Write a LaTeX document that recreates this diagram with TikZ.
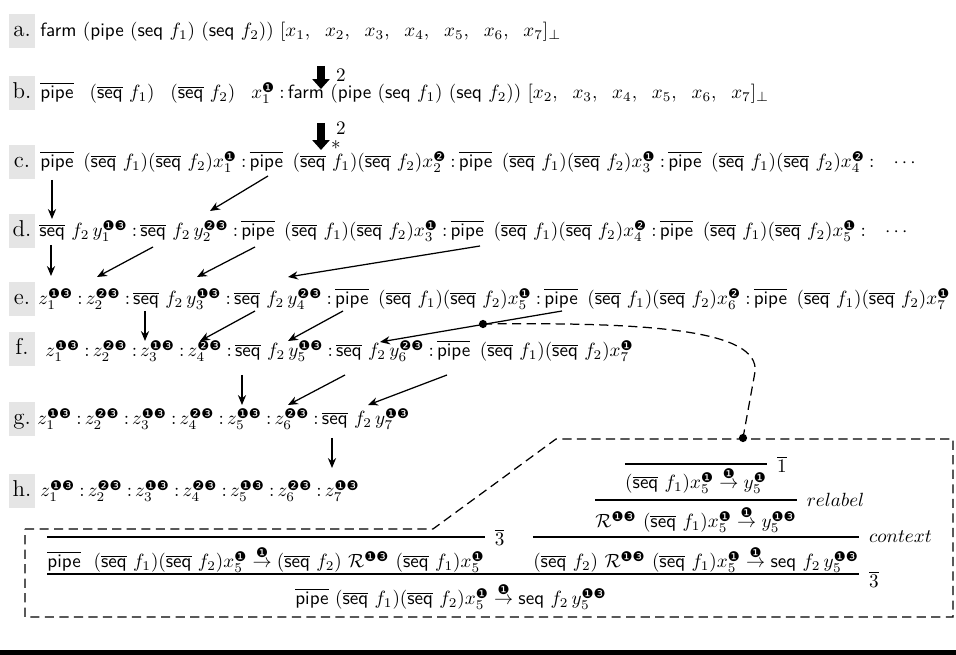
\documentclass[tikz,border=0pt]{standalone}
\usepackage{amsmath}
\usepackage{fontspec}
\newfontfamily\djv{DejaVu Sans}
\usetikzlibrary{arrows.meta}
\newcommand\cA{\text{\djv ❶}}
\newcommand\cB{\text{\djv ❷}}
\newcommand\cAC{\text{\djv ❶❸}}
\newcommand\cBC{\text{\djv ❷❸}}
\newcommand\Opipe{\overline{\textsf{pipe}}}
\newcommand\Oseq{\overline{\textsf{seq}}}
\newcommand\Sseq{\textsf{seq}}
\newcommand\Spipe{\textsf{pipe}}
\newcommand\Sfarm{\textsf{farm}}
\newcommand\Cl{\mskip4mu{:}\mskip3mu}
\newcommand\El[1]{\Opipe\ \,(\Oseq\ f_1)(\Oseq\ f_2)x_{#1}}
\newcommand\Ys[1]{\Oseq\ f_2\,y_{#1}}
\newcommand\Arr{\overset{\cA}{\rightarrow}}
\begin{document}
\begin{tikzpicture}[x=0.523pt,y=-0.523pt,
  row/.style={inner sep=0pt,anchor=base west,font=\normalsize},
  lab/.style={fill=black!10,anchor=base,font=\large,minimum width=14pt,text height=11.5pt,text depth=5.5pt,inner xsep=1pt,inner ysep=0.5pt},
  conn/.style={line width=0.65pt,-{Stealth[length=5.2pt,width=4.3pt]}},
  bigarr/.style={line width=4.2pt,-{Triangle[length=5.2pt,width=8.9pt]}},
  dashline/.style={line width=0.65pt,dash pattern=on 4.8pt off 2.8pt},
  pf/.style={inner sep=0pt,anchor=base,font=\normalsize},
  rule/.style={line width=0.6pt},
  rlab/.style={inner sep=0pt,anchor=west,font=\normalsize}]
\useasboundingbox (0,0) rectangle (956,655);

% row labels
\node[lab] (la) at (22,37) {a.};
\node[lab] (lb) at (22,99) {b.};
\node[lab] (lc) at (22,168) {c.};
\node[lab] (ld) at (22,237) {d.};
\node[lab] (le) at (22,305) {e.};
\node[lab] (lf) at (22,355) {f.};
\node[lab] (lg) at (22,425) {g.};
\node[lab] (lh) at (22,497) {h.};

% rows
\node[row] (ra) at (40,37) {$\Sfarm\ (\Spipe\ (\Sseq\ f_1)\ (\Sseq\ f_2))\ [x_1,\ \;x_2,\ \;x_3,\ \;x_4,\ \;x_5,\ \;x_6,\ \;x_7]_\perp$};
\node[row] (rb) at (40,99) {$\Opipe\ \ \,(\Oseq\ f_1)\ \ \,(\Oseq\ f_2)\ \ \,x_1^{\cA}\Cl\Sfarm\ (\Spipe\ (\Sseq\ f_1)\ (\Sseq\ f_2))\ [x_2,\ \;x_3,\ \;x_4,\ \;x_5,\ \;x_6,\ \;x_7]_\perp$};
\node[row] (rc) at (40,168) {$\El1^{\cA}\Cl\El2^{\cB}\Cl\El3^{\cA}\Cl\El4^{\cB}\Cl\ \ \cdots$};
\node[row] (rd) at (39,237) {$\Ys1^{\cAC}\Cl\Ys2^{\cBC}\Cl\El3^{\cA}\Cl\El4^{\cB}\Cl\El5^{\cA}\Cl\ \ \cdots$};
\node[row] (re) at (38,305) {$z_1^{\cAC}\Cl z_2^{\cBC}\Cl\Ys3^{\cAC}\Cl\Ys4^{\cBC}\Cl\El5^{\cA}\Cl\El6^{\cB}\Cl\El7^{\cA}$};
\node[row] (rf) at (45,357) {$z_1^{\cAC}\Cl z_2^{\cBC}\Cl z_3^{\cAC}\Cl z_4^{\cBC}\Cl\Ys5^{\cAC}\Cl\Ys6^{\cBC}\Cl\El7^{\cA}$};
\node[row] (rg) at (37,425) {$z_1^{\cAC}\Cl z_2^{\cBC}\Cl z_3^{\cAC}\Cl z_4^{\cBC}\Cl z_5^{\cAC}\Cl z_6^{\cBC}\Cl\Ys7^{\cAC}$};
\node[row] (rh) at (40,497) {$z_1^{\cAC}\Cl z_2^{\cBC}\Cl z_3^{\cAC}\Cl z_4^{\cBC}\Cl z_5^{\cAC}\Cl z_6^{\cBC}\Cl z_7^{\cAC}$};

% big arrows
\coordinate (ba1) at (321,66);
\coordinate (ba2) at (321,89);
\coordinate (bb1) at (321,123);
\coordinate (bb2) at (321,150);
\draw[bigarr] (ba1) -- (ba2);
\draw[bigarr] (bb1) -- (bb2);
\node[inner sep=0pt] (n2a) at (341,75) {$2$};
\node[inner sep=0pt] (n2b) at (341,128) {$2$};
\node[inner sep=0pt] (nst) at (336,145) {$*$};

% connectors
\coordinate (cd1s) at (52,180);  \coordinate (cd1e) at (52,219);
\coordinate (cd2s) at (268,176); \coordinate (cd2e) at (210,211);
\coordinate (de1s) at (51,245);  \coordinate (de1e) at (51,276);
\coordinate (de2s) at (153,247); \coordinate (de2e) at (97,277);
\coordinate (de3s) at (255,247); \coordinate (de3e) at (197,277);
\coordinate (de4s) at (480,246); \coordinate (de4e) at (288,277);
\coordinate (ef1s) at (145,311); \coordinate (ef1e) at (145,341);
\coordinate (ef2s) at (255,311); \coordinate (ef2e) at (200,341);
\coordinate (ef3s) at (343,311); \coordinate (ef3e) at (288,341);
\coordinate (ef4s) at (562,311); \coordinate (ef4e) at (380,342);
\coordinate (fg1s) at (242,375); \coordinate (fg1e) at (242,405);
\coordinate (fg2s) at (345,375); \coordinate (fg2e) at (288,405);
\coordinate (fg3s) at (447,375); \coordinate (fg3e) at (368,405);
\coordinate (gh1s) at (332,438); \coordinate (gh1e) at (332,468);
\foreach \a in {cd1,cd2,de1,de2,de3,de4,ef1,ef2,ef3,ef4,fg1,fg2,fg3,gh1}
  \draw[conn] (\a s) -- (\a e);

% dots and dashed link
\coordinate (dotA) at (483,324);
\coordinate (dotB) at (743,438);
\fill (dotA) circle[radius=2.15pt];
\fill (dotB) circle[radius=2.15pt];
\draw[dashline] (dotA) .. controls (650,322) and (760,330) .. (755,372) -- (dotB);

% dashed box
\draw[dashline] (25,529) -- (433,529) -- (556,439) -- (953,439) -- (953,617) -- (25,617) -- cycle;

% proof tree
\coordinate (y1) at (0,464);
\coordinate (y2) at (0,500);
\coordinate (y3) at (0,537);
\coordinate (y4) at (0,574);
\node[pf] (T1) at (696,489) {$(\Oseq\ f_1)x_5^{\cA}\Arr y_5^{\cA}$};
\node[pf] (T2) at (696,528) {$\mathcal{R}^{\cAC}\ (\Oseq\ f_1)x_5^{\cA}\Arr y_5^{\cAC}$};
\node[pf] (T3) at (696,568) {$(\Oseq\ f_2)\ \mathcal{R}^{\cAC}\ (\Oseq\ f_1)x_5^{\cA}\Arr \Sseq\ f_2\,y_5^{\cAC}$};
\node[pf] (T4) at (266,568) {$\Opipe\ \ (\Oseq\ f_1)(\Oseq\ f_2)x_5^{\cA}\Arr(\Oseq\ f_2)\ \mathcal{R}^{\cAC}\ (\Oseq\ f_1)x_5^{\cA}$};
\node[pf] (T5) at (451,605) {$\Opipe\ (\Oseq\ f_1)(\Oseq\ f_2)x_5^{\cA}\Arr\Sseq\ f_2\,y_5^{\cAC}$};
\draw[rule] (T1.west |- y1) -- (T1.east |- y1);
\draw[rule] (T2.west |- y2) -- (T2.east |- y2);
\draw[rule] (T3.west |- y3) -- (T3.east |- y3);
\draw[rule] (T4.west |- y3) -- (T4.east |- y3);
\draw[rule] (T4.west |- y4) -- (T3.east |- y4);
\node[rlab] (L1) at ([xshift=5pt]T1.east |- y1) {$\overline{1}$};
\node[rlab] (L2) at ([xshift=5pt]T2.east |- y2) {$relabel$};
\node[rlab] (L3) at ([xshift=5pt]T4.east |- y3) {$\overline{3}$};
\node[rlab] (L4) at ([xshift=5pt]T3.east |- y3) {$context$};
\node[rlab] (L5) at ([xshift=5pt,yshift=-3pt]T3.east |- y4) {$\overline{3}$};

% bottom bar
\fill (0,650) rectangle (956,655);
\end{tikzpicture}
\end{document}
